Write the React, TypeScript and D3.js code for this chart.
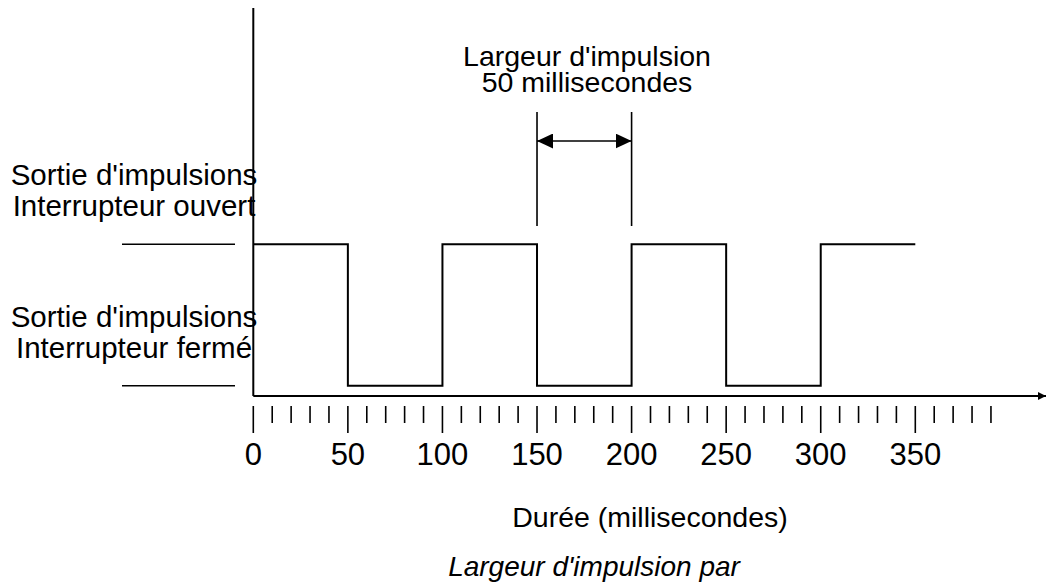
import { useEffect, useRef } from "react";
import * as d3 from "d3";

// pulse output: time of each edge (ms) and the level that starts there (1 = open, 0 = closed)
const edgeTimes = [0, 50, 100, 150, 200, 250, 300, 350];
const levels = [1, 0, 1, 0, 1, 0, 1, 1];

const majorTicks = [0, 50, 100, 150, 200, 250, 300, 350];
const minorTicks = d3.range(0, 391, 10);

const levelLabels = [
  { level: 1, lines: ["Sortie d'impulsions", "Interrupteur ouvert"] },
  { level: 0, lines: ["Sortie d'impulsions", "Interrupteur fermé"] },
];
const widthMarker = [150, 200];
const widthTitle = ["Largeur d'impulsion", "50 millisecondes"];
const xTitle = "Durée (millisecondes)";
const caption = "Largeur d'impulsion par";

const FONT = "'Liberation Sans', Arial, sans-serif";

const PulseChart = () => {
  const svgRef = useRef<SVGSVGElement>(null);

  useEffect(() => {
    if (!svgRef.current) return;
    const svg = d3.select(svgRef.current);
    svg.selectAll("*").remove();

    const x = d3.scaleLinear().domain([0, 350]).range([253.3, 915.3]);
    const y = d3.scaleLinear().domain([0, 1]).range([385.7, 244.2]);
    const axisY = 396;

    const defs = svg.append("defs");
    defs
      .append("marker")
      .attr("id", "head")
      .attr("viewBox", "0 0 10 10")
      .attr("refX", 10)
      .attr("refY", 5)
      .attr("markerWidth", 8)
      .attr("markerHeight", 9)
      .attr("markerUnits", "userSpaceOnUse")
      .attr("orient", "auto-start-reverse")
      .append("path")
      .attr("d", "M0,0L10,5L0,10Z")
      .attr("fill", "#000");
    defs
      .append("marker")
      .attr("id", "dim")
      .attr("viewBox", "0 0 16 15")
      .attr("refX", 16)
      .attr("refY", 7.5)
      .attr("markerWidth", 16)
      .attr("markerHeight", 15)
      .attr("markerUnits", "userSpaceOnUse")
      .attr("orient", "auto-start-reverse")
      .append("path")
      .attr("d", "M0,0L16,7.5L0,15Z")
      .attr("fill", "#000");

    // vertical axis
    svg
      .append("line")
      .attr("x1", x(0))
      .attr("x2", x(0))
      .attr("y1", 8)
      .attr("y2", axisY)
      .attr("stroke", "#000")
      .attr("stroke-width", 2);

    // time axis with arrow
    svg
      .append("line")
      .attr("x1", x(0))
      .attr("x2", 1046)
      .attr("y1", axisY)
      .attr("y2", axisY)
      .attr("stroke", "#000")
      .attr("stroke-width", 2)
      .attr("marker-end", "url(#head)");

    // ticks, longer every 50 ms
    svg
      .append("g")
      .selectAll("line")
      .data(minorTicks)
      .join("line")
      .attr("x1", (d) => x(d))
      .attr("x2", (d) => x(d))
      .attr("y1", 406)
      .attr("y2", (d) => (d % 50 === 0 ? 433 : 423))
      .attr("stroke", "#000")
      .attr("stroke-width", 1.6);

    svg
      .append("g")
      .selectAll("text")
      .data(majorTicks)
      .join("text")
      .attr("x", (d) => x(d))
      .attr("y", 465)
      .attr("text-anchor", "middle")
      .style("font-family", FONT)
      .style("font-size", "31px")
      .text((d) => d);

    // pulse train
    const line = d3
      .line<number>()
      .x((_, i) => x(edgeTimes[i]))
      .y((d) => y(d))
      .curve(d3.curveStepAfter);
    svg
      .append("path")
      .attr("d", line(levels))
      .attr("fill", "none")
      .attr("stroke", "#000")
      .attr("stroke-width", 2);

    // level marks and labels on the left
    const lab = svg.append("g").selectAll("g").data(levelLabels).join("g");
    lab
      .append("line")
      .attr("x1", 122)
      .attr("x2", 235)
      .attr("y1", (d) => y(d.level))
      .attr("y2", (d) => y(d.level))
      .attr("stroke", "#000")
      .attr("stroke-width", 1.6);
    lab
      .selectAll("text")
      .data((d) => d.lines.map((t, i) => ({ t, i, level: d.level })))
      .join("text")
      .attr("x", 134)
      .attr("y", (d) => y(d.level) - 59 + d.i * 31)
      .attr("text-anchor", "middle")
      .style("font-family", FONT)
      .style("font-size", "29.5px")
      .text((d) => d.t);

    // pulse width dimension
    svg
      .append("g")
      .selectAll("line")
      .data(widthMarker)
      .join("line")
      .attr("x1", (d) => x(d))
      .attr("x2", (d) => x(d))
      .attr("y1", 112)
      .attr("y2", 226)
      .attr("stroke", "#000")
      .attr("stroke-width", 1.6);
    svg
      .append("line")
      .attr("x1", x(widthMarker[0]))
      .attr("x2", x(widthMarker[1]))
      .attr("y1", 141)
      .attr("y2", 141)
      .attr("stroke", "#000")
      .attr("stroke-width", 1.6)
      .attr("marker-start", "url(#dim)")
      .attr("marker-end", "url(#dim)");
    svg
      .append("g")
      .selectAll("text")
      .data(widthTitle)
      .join("text")
      .attr("x", 587)
      .attr("y", (_, i) => 66 + i * 26)
      .attr("text-anchor", "middle")
      .style("font-family", FONT)
      .style("font-size", "28.5px")
      .text((d) => d);

    // axis title and caption
    svg
      .append("text")
      .attr("x", 650)
      .attr("y", 527)
      .attr("text-anchor", "middle")
      .style("font-family", FONT)
      .style("font-size", "28.5px")
      .text(xTitle);
    svg
      .append("text")
      .attr("x", 594)
      .attr("y", 576)
      .attr("text-anchor", "middle")
      .style("font-family", FONT)
      .style("font-size", "28px")
      .style("font-style", "italic")
      .text(caption);
  }, []);

  return (
    <svg
      ref={svgRef}
      width={1046}
      height={584}
      style={{ position: "absolute", left: 0, top: 0, background: "#fff" }}
    />
  );
};

export default function App() {
  return <PulseChart />;
}
